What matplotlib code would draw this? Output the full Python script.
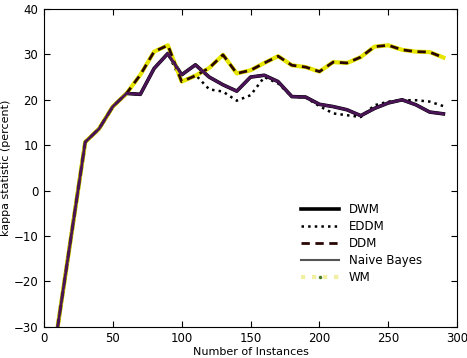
import numpy as np
import matplotlib.pyplot as plt

# Number of instances (x positions)
instances = list(range(10, 300, 10))

# kappa statistic (percent) per method
dwm = [-30, -9.6, 10.7, 13.6, 18.5, 21.4, 21.2, 26.9, 30.2, 25.5,
       27.7, 25.0, 23.3, 21.9, 25.0, 25.4, 24.0, 20.7, 20.6, 19.0,
       18.5, 17.8, 16.5, 18.1, 19.3, 20.0, 18.9, 17.3, 16.9]
eddm = [-30, -9.6, 10.7, 13.6, 18.5, 21.4, 21.2, 26.9, 30.2, 24.0,
        25.5, 22.3, 21.8, 19.8, 21.0, 25.0, 23.6, 20.7, 20.5, 18.6,
        17.0, 16.6, 16.2, 18.8, 19.6, 19.9, 19.9, 19.6, 18.6]
ddm = [-30, -9.6, 10.7, 13.6, 18.5, 21.4, 25.5, 30.6, 32.0, 24.0,
       25.3, 27.0, 29.9, 25.8, 26.5, 28.1, 29.6, 27.6, 27.2, 26.2,
       28.3, 28.1, 29.4, 31.7, 32.0, 31.0, 30.6, 30.5, 29.3]
naive_bayes = dwm
wm = ddm

fig = plt.figure(figsize=(4.67, 3.58), dpi=100)
ax = fig.add_axes([0.094, 0.087, 0.885, 0.888])

ax.plot(instances, dwm, color='black', lw=2.6, label='DWM')
ax.plot(instances, eddm, color='black', lw=1.8, linestyle=':', label='EDDM')
ax.plot(instances, wm, color='#e6e600', lw=3.0, zorder=2)
ax.plot(instances, ddm, color='#2a0505', lw=2.0, linestyle='--', dashes=(3, 2),
        label='DDM', zorder=3)
ax.plot(instances, naive_bayes, color='#4a1457', lw=2.0, zorder=4)
ax.plot([], [], color='#555555', lw=1.5, label='Naive Bayes')
ax.plot([], [], color='#f0f0a0', lw=3, linestyle=':', label='WM',
        marker='.', markersize=3, markerfacecolor='#4a7a20',
        markeredgecolor='#4a7a20')

ax.set_xlim(0, 300)
ax.set_ylim(-30, 40)
ax.set_xticks([0, 50, 100, 150, 200, 250, 300])
ax.set_yticks([-30, -20, -10, 0, 10, 20, 30, 40])
ax.tick_params(direction='in', top=True, right=True, labelsize=8.5, length=4, pad=4)
ax.set_xlabel('Number of Instances', fontsize=8, labelpad=1)
ax.set_ylabel('kappa statistic (percent)', fontsize=8, labelpad=2)

ax.legend(loc='lower right', bbox_to_anchor=(0.94, 0.10), frameon=False,
          fontsize=8.5, handlelength=3.2, labelspacing=0.35)

fig.savefig('out.png', dpi=100)
